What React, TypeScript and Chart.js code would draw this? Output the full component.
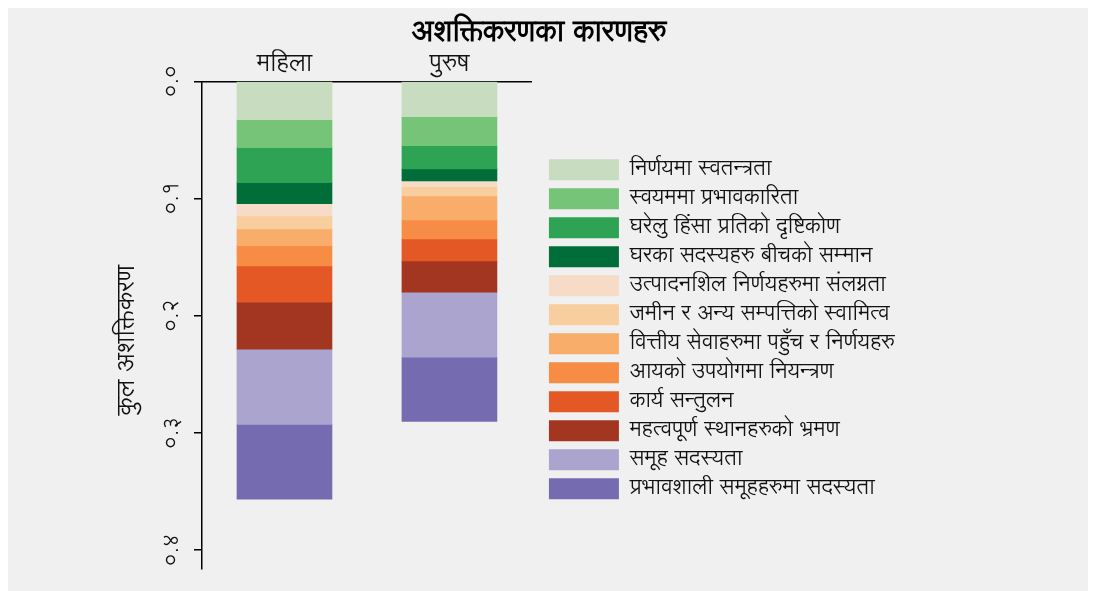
import React, { useEffect, useRef } from "react";
import { Chart, registerables } from "chart.js";

Chart.register(...registerables);

const categories = ["महिला", "पुरुष"];

const seriesNames = [
  "निर्णयमा स्वतन्त्रता",
  "स्वयममा प्रभावकारिता",
  "घरेलु हिंसा प्रतिको दृष्टिकोण",
  "घरका सदस्यहरु बीचको सम्मान",
  "उत्पादनशिल निर्णयहरुमा संलग्नता",
  "जमीन र अन्य सम्पत्तिको स्वामित्व",
  "वित्तीय सेवाहरुमा पहुँच र निर्णयहरु",
  "आयको उपयोगमा नियन्त्रण",
  "कार्य सन्तुलन",
  "महत्वपूर्ण स्थानहरुको भ्रमण",
  "समूह सदस्यता",
  "प्रभावशाली समूहहरुमा सदस्यता",
];

const seriesColors = [
  "#c8ddc0",
  "#75c478",
  "#2ea354",
  "#016d38",
  "#f6dbc7",
  "#f9ce9e",
  "#f9ad6a",
  "#f78c44",
  "#e45826",
  "#a33621",
  "#aaa4cf",
  "#756bb1",
];

const womenValues = [0.0327, 0.0239, 0.0299, 0.018, 0.0103, 0.0111, 0.0143, 0.0174, 0.0308, 0.0402, 0.0641, 0.0638];
const menValues = [0.0302, 0.0248, 0.0197, 0.0103, 0.0049, 0.0079, 0.0205, 0.0162, 0.0188, 0.0265, 0.0556, 0.0547];

const yTickLabels = ["०.०", "०.१", "०.२", "०.३", "०.४"];

const chartTitle = "अशक्तिकरणका कारणहरु";
const yAxisTitle = "कुल अशक्तिकरण";

const FONT = "'Lohit Devanagari', 'Noto Sans Devanagari', sans-serif";

const layoutTweaks = {
  id: "layoutTweaks",
  beforeLayout(chart: any) {
    const lg = chart.legend;
    if (lg && !lg.__wide) {
      const orig = lg.update.bind(lg);
      lg.update = (w: number, h: number, m: any) => orig(Math.max(w, 480), h, m);
      lg.__wide = true;
    }
  },
  afterLayout(chart: any) {
    const t = chart.titleBlock;
    if (t) {
      t.left = 0;
      t.right = 1062;
    }
    const lg = chart.legend;
    if (lg) {
      lg.left += 9.5;
      lg.right += 9.5;
      lg.top += 40.75;
      lg.bottom += 40.75;
    }
    const y = chart.scales.y;
    if (y && !y.__titlePatched) {
      const origDraw = y.drawTitle.bind(y);
      y.drawTitle = () => {
        y.top += 15;
        y.bottom += 15;
        origDraw();
        y.top -= 15;
        y.bottom -= 15;
      };
      y.__titlePatched = true;
    }
  },
};

export default function App() {
  const ref = useRef<HTMLCanvasElement>(null);
  useEffect(() => {
    const canvas = ref.current;
    if (!canvas) return;
    const chart = new Chart(canvas, {
      type: "bar",
      data: {
        labels: categories,
        datasets: seriesNames.map((name, i) => ({
          label: name,
          data: [womenValues[i], menValues[i]],
          backgroundColor: seriesColors[i],
          borderWidth: 0,
          barThickness: 95,
        })),
      },
      options: {
        responsive: false,
        animation: false,
        layout: { padding: { left: 105, right: 192.75, top: 0, bottom: 22 } },
        plugins: {
          title: {
            display: true,
            text: chartTitle,
            color: "#000",
            font: { family: FONT, size: 29, weight: "bold", lineHeight: 1.05 },
            padding: { top: 10.8, bottom: 0 },
          },
          legend: {
            position: "right",
            align: "center",
            labels: {
              boxWidth: 70,
              boxHeight: 21,
              padding: 7.5,
              color: "#111",
              font: { family: FONT, size: 21.5 },
            },
          },
          tooltip: { enabled: false },
        },
        scales: {
          x: {
            stacked: true,
            position: "top",
            grid: { display: false, drawTicks: false },
            border: { display: true, color: "#000", width: 1.5 },
            ticks: { color: "#111", padding: 4, font: { family: FONT, size: 24, lineHeight: 1.0 } },
          },
          y: {
            stacked: true,
            reverse: true,
            min: 0,
            max: 0.416,
            grid: { drawOnChartArea: false, drawTicks: true, tickLength: 8, color: "#000", lineWidth: 1.5 },
            border: { display: true, color: "#000", width: 1.5 },
            ticks: {
              stepSize: 0.1,
              includeBounds: false,
              minRotation: 90,
              maxRotation: 90,
              crossAlign: "center",
              padding: 4,
              color: "#111",
              font: { family: FONT, size: 21 },
              callback: (v: any) => yTickLabels[Math.round(Number(v) * 10)] ?? "",
            },
            title: {
              display: true,
              text: yAxisTitle,
              color: "#111",
              font: { family: FONT, size: 25 },
              padding: { top: 0, bottom: 17.8 },
            },
          },
        },
      },
      plugins: [layoutTweaks],
    } as any);
    return () => chart.destroy();
  }, []);
  return (
    <canvas
      ref={ref}
      width={1080}
      height={583}
      style={{ display: "block", width: 1080, height: 583, background: "#f0f0f0" }}
    />
  );
}
